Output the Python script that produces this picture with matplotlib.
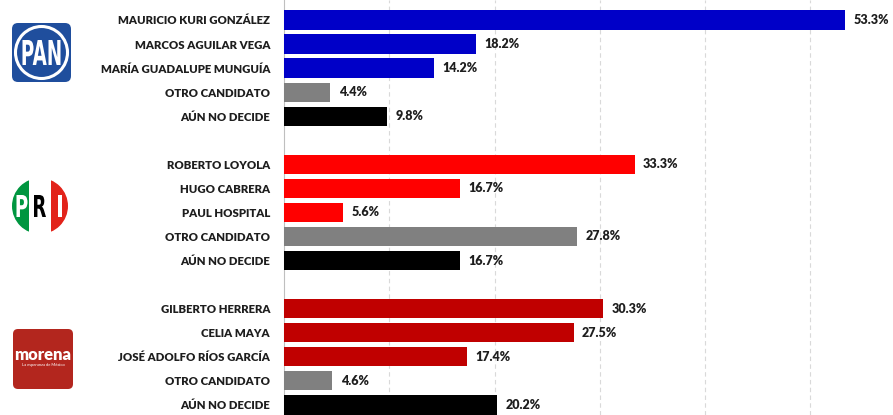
import matplotlib
matplotlib.use("Agg")
import matplotlib.pyplot as plt
from matplotlib.patches import FancyBboxPatch, Circle, Rectangle, PathPatch
from matplotlib.textpath import TextPath
from matplotlib.font_manager import FontProperties
from matplotlib.transforms import Affine2D

# data
pan_names = ["MAURICIO KURI GONZÁLEZ", "MARCOS AGUILAR VEGA", "MARÍA GUADALUPE MUNGUÍA",
             "OTRO CANDIDATO", "AÚN NO DECIDE"]
pan_vals = [53.3, 18.2, 14.2, 4.4, 9.8]
pri_names = ["ROBERTO LOYOLA", "HUGO CABRERA", "PAUL HOSPITAL",
             "OTRO CANDIDATO", "AÚN NO DECIDE"]
pri_vals = [33.3, 16.7, 5.6, 27.8, 16.7]
morena_names = ["GILBERTO HERRERA", "CELIA MAYA", "JOSÉ ADOLFO RÍOS GARCÍA",
                "OTRO CANDIDATO", "AÚN NO DECIDE"]
morena_vals = [30.3, 27.5, 17.4, 4.6, 20.2]

pan_col = "#0000C8"
pri_col = "#FF0000"
mor_col = "#C00000"
otro_col = "#808080"
aun_col = "#000000"

plt.rcParams['font.family'] = ['Lato', 'DejaVu Sans']
txt_col = "#1E1E1E"

W, H = 893, 415
fig = plt.figure(figsize=(W / 100, H / 100), dpi=100)

ax_left = 284
ax = fig.add_axes([ax_left / W, 0, (W - ax_left) / W, 1])

names = []
vals = []
cols = []
pos = []
for g, (nm, vs, c) in enumerate([(pan_names, pan_vals, pan_col),
                                 (pri_names, pri_vals, pri_col),
                                 (morena_names, morena_vals, mor_col)]):
    for i in range(5):
        names.append(nm[i])
        vals.append(vs[i])
        pos.append(g * 6 + i)
        if i == 3:
            cols.append(otro_col)
        elif i == 4:
            cols.append(aun_col)
        else:
            cols.append(c)

ax.barh(pos, vals, height=0.8, color=cols, zorder=3)
for p, v in zip(pos, vals):
    ax.text(v + 0.8, p, f"{v:.1f}%", va='center', ha='left', fontsize=9,
            fontweight='heavy', color=txt_col)

ax.set_yticks(pos, names)
ax.tick_params(axis='y', length=0, pad=10, labelsize=8.2, labelcolor=txt_col)
for lb in ax.get_yticklabels():
    lb.set_fontweight('heavy')
ax.set_xticks([10, 20, 30, 40, 50])
ax.tick_params(axis='x', length=0, labelbottom=False)
ax.xaxis.grid(True, linestyle=(0, (4, 3)), color="#D9D9D9", linewidth=0.8, zorder=0)
ax.set_xlim(0, (W - ax_left) / 10.53)
ax.set_ylim(16.42, -0.83)
for s in ['top', 'right', 'bottom']:
    ax.spines[s].set_visible(False)
ax.spines['left'].set_color("#BFBFBF")
ax.spines['left'].set_linewidth(0.8)

# logos
def logo_ax(x0, y0, w, h):
    a = fig.add_axes([x0 / W, 1 - (y0 + h) / H, w / W, h / H])
    a.set_xlim(0, w)
    a.set_ylim(0, h)
    a.axis('off')
    return a

bold_fp = FontProperties(family='DejaVu Sans', weight='bold')

def narrow_text(a, s, cx, cy, height, width, color, z=5):
    tp = TextPath((0, 0), s, size=10, prop=bold_fp)
    bb = tp.get_extents()
    tr = (Affine2D().translate(-(bb.x0 + bb.width / 2), -(bb.y0 + bb.height / 2))
          .scale(width / bb.width, height / bb.height).translate(cx, cy))
    a.add_patch(PathPatch(tr.transform_path(tp), facecolor=color, edgecolor='none', zorder=z))

# PAN
la = logo_ax(11, 22, 61, 61)
la.add_patch(FancyBboxPatch((1, 1), 59, 59, boxstyle="round,pad=0,rounding_size=6",
                            facecolor="#1F4E9D", edgecolor="none"))
la.add_patch(Circle((30.5, 30.5), 26, facecolor="none", edgecolor="white", linewidth=2.2))
narrow_text(la, "PAN", 30.5, 30.5, 25, 38, 'white')

# PRI
la = logo_ax(10, 177, 60, 58)
clip = Circle((30, 29), 28, transform=la.transData)
for x0, w, c in [(0, 19, "#009640"), (19, 3, "white"), (22, 16, "white"),
                 (38, 3, "white"), (41, 19, "#E2231A")]:
    r = Rectangle((x0, 0), w, 58, facecolor=c, edgecolor='none')
    la.add_patch(r)
    r.set_clip_path(clip)
narrow_text(la, "P", 12, 29, 22, 11, 'white')
narrow_text(la, "R", 30, 29, 22, 12, 'black')
narrow_text(la, "I", 50, 29, 22, 4, 'white')

# MORENA
la = logo_ax(13, 329, 60, 60)
la.add_patch(FancyBboxPatch((0, 0), 60, 60, boxstyle="round,pad=0,rounding_size=5",
                            facecolor="#B3261E", edgecolor="none"))
la.text(30, 34, "morena", ha='center', va='center', color='white', fontsize=12,
        fontweight='heavy')
la.text(30, 24, "La esperanza de México", ha='center', va='center', color='white',
        fontsize=3)

fig.savefig("out.png", dpi=100)
